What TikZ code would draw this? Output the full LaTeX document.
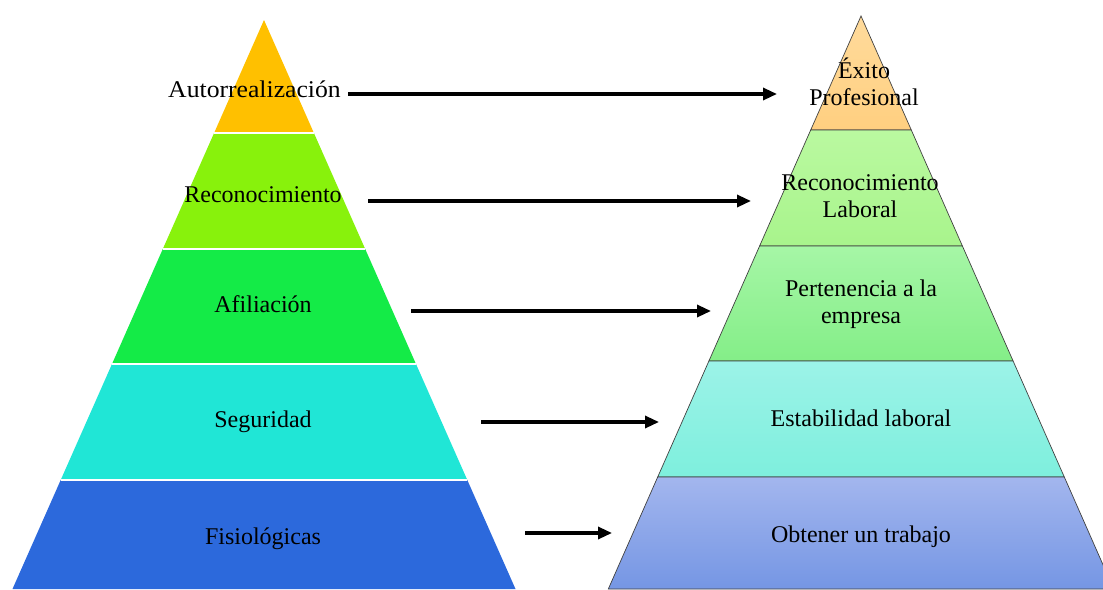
\documentclass[tikz,border=0pt]{standalone}
\usepackage{fontspec}
\setmainfont{Liberation Serif}
\usetikzlibrary{arrows.meta}
\definecolor{lA}{HTML}{FFC000}
\definecolor{lB}{HTML}{88F20C}
\definecolor{lC}{HTML}{14EB47}
\definecolor{lD}{HTML}{20E6D6}
\definecolor{lE}{HTML}{2C69DC}
\definecolor{rAt}{HTML}{FFDB9C}\definecolor{rAb}{HTML}{FFCF80}
\definecolor{rBt}{HTML}{BAF9A0}\definecolor{rBb}{HTML}{A8F48C}
\definecolor{rCt}{HTML}{A6F6A6}\definecolor{rCb}{HTML}{84EE88}
\definecolor{rDt}{HTML}{9CF3E8}\definecolor{rDb}{HTML}{7EEFDD}
\definecolor{rEt}{HTML}{A3B6EE}\definecolor{rEb}{HTML}{7596E4}
\definecolor{edge}{HTML}{404040}
\begin{document}
\begin{tikzpicture}[x=1pt,y=-1pt,
  sep/.style={white,line width=2pt},
  rband/.style={draw=edge,line width=0.7pt},
  lbl/.style={font=\fontsize{24}{26.5}\selectfont,inner sep=0pt,anchor=base,align=center},
  conn/.style={line width=3.2pt,-{Triangle[length=14pt,width=12pt]}}]
\useasboundingbox (0,0) rectangle (1103,589);
% left pyramid
\fill[lA] (264,20) -- (313.9,133) -- (214.1,133) -- cycle;
\fill[lB] (214.1,133) -- (313.9,133) -- (365.2,249) -- (162.8,249) -- cycle;
\fill[lC] (162.8,249) -- (365.2,249) -- (416,364) -- (112,364) -- cycle;
\fill[lD] (112,364) -- (416,364) -- (467.3,480) -- (60.7,480) -- cycle;
\fill[lE] (60.7,480) -- (467.3,480) -- (515.5,589) -- (12.5,589) -- cycle;
\draw[sep] (214.1,133) -- (313.9,133) (162.8,249) -- (365.2,249) (112,364) -- (416,364) (60.7,480) -- (467.3,480);
% right pyramid
\shadedraw[rband,top color=rAt,bottom color=rAb] (861,16) -- (911.3,130) -- (810.7,130) -- cycle;
\shadedraw[rband,top color=rBt,bottom color=rBb] (810.7,130) -- (911.3,130) -- (962.4,246) -- (759.6,246) -- cycle;
\shadedraw[rband,top color=rCt,bottom color=rCb] (759.6,246) -- (962.4,246) -- (1013.1,361) -- (708.9,361) -- cycle;
\shadedraw[rband,top color=rDt,bottom color=rDb] (708.9,361) -- (1013.1,361) -- (1064.3,477) -- (657.7,477) -- cycle;
\shadedraw[rband,top color=rEt,bottom color=rEb] (657.7,477) -- (1064.3,477) -- (1113.7,589) -- (608.3,589) -- cycle;
% left labels
\node[lbl,xscale=1.07] (n1) at (254.5,97) {Autorrealización};
\node[lbl] (n2) at (263,202) {Reconocimiento};
\node[lbl] (n3) at (263,312) {Afiliación};
\node[lbl] (n4) at (263,427) {Seguridad};
\node[lbl] (n5) at (263,544) {Fisiológicas};
% right labels (base = last line)
\node[lbl] (m1) at (864,105) {Éxito\\Profesional};
\node[lbl] (m2) at (860,217) {Reconocimiento\\Laboral};
\node[lbl] (m3) at (861,323) {Pertenencia a la\\empresa};
\node[lbl] (m4) at (861,426) {Estabilidad laboral};
\node[lbl] (m5) at (861,542) {Obtener un trabajo};
% connectors
\coordinate (s1) at (348,94);  \coordinate (e1) at (777,94);
\coordinate (s2) at (368,201); \coordinate (e2) at (751,201);
\coordinate (s3) at (411,311); \coordinate (e3) at (711,311);
\coordinate (s4) at (481,422); \coordinate (e4) at (659,422);
\coordinate (s5) at (525,533); \coordinate (e5) at (612,533);
\draw[conn] (s1) -- (e1);
\draw[conn] (s2) -- (e2);
\draw[conn] (s3) -- (e3);
\draw[conn] (s4) -- (e4);
\draw[conn] (s5) -- (e5);
\end{tikzpicture}
\end{document}
